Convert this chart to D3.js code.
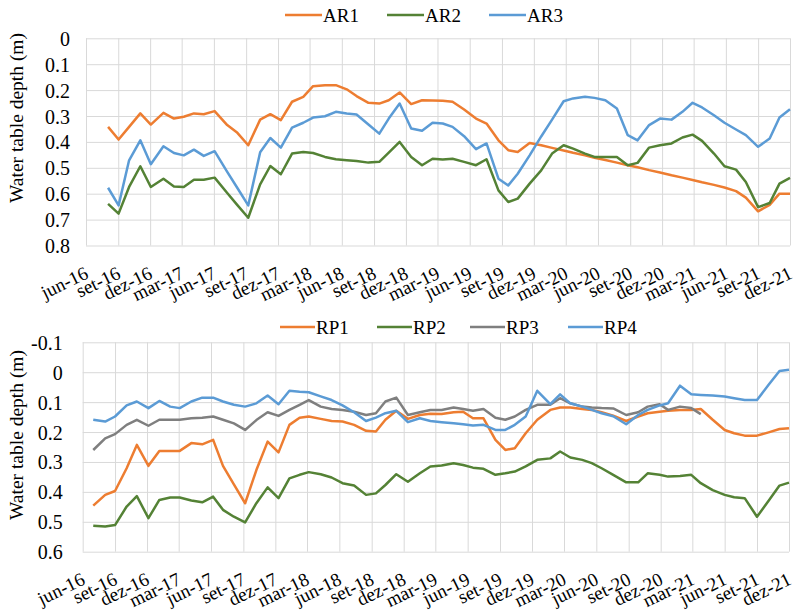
<!DOCTYPE html>
<html>
<head>
<meta charset="utf-8">
<script src="https://cdn.jsdelivr.net/npm/d3@7"></script>
<style>
    body { margin: 0; background: #fff; }
</style>
</head>
<body>
<div id="chart"></div>
<script>
// ------------------------------ data ------------------------------
const tickLabels = ["jun-16", "set-16", "dez-16", "mar-17", "jun-17", "set-17", "dez-17", "mar-18",
    "jun-18", "set-18", "dez-18", "mar-19", "jun-19", "set-19", "dez-19", "mar-20", "jun-20",
    "set-20", "dez-20", "mar-21", "jun-21", "set-21", "dez-21"];

const topYTicks = [0, 0.1, 0.2, 0.3, 0.4, 0.5, 0.6, 0.7, 0.8];
const bottomYTicks = [-0.1, 0, 0.1, 0.2, 0.3, 0.4, 0.5, 0.6];

const topDates = ["2016-08-03", "2016-09-02", "2016-10-02", "2016-11-03", "2016-12-03",
    "2017-01-08", "2017-02-07", "2017-03-07", "2017-04-05", "2017-05-03", "2017-06-03", "2017-07-09",
    "2017-08-07", "2017-09-07", "2017-10-11", "2017-11-09", "2017-12-09",
    "2018-01-10", "2018-02-11", "2018-03-11", "2018-04-14", "2018-05-15", "2018-06-15", "2018-07-13",
    "2018-08-16", "2018-09-16", "2018-10-13", "2018-11-13", "2018-12-16",
    "2019-01-16", "2019-02-15", "2019-03-16", "2019-04-13", "2019-05-16", "2019-06-19", "2019-07-19",
    "2019-08-22", "2019-09-19", "2019-10-16", "2019-11-19", "2019-12-22",
    "2020-01-22", "2020-02-24", "2020-03-22", "2020-04-25", "2020-05-22", "2020-06-22", "2020-07-25",
    "2020-08-25", "2020-09-22", "2020-10-25", "2020-11-25", "2020-12-28",
    "2021-01-28", "2021-02-26", "2021-03-25", "2021-04-28", "2021-05-28", "2021-06-30", "2021-07-28",
    "2021-09-01", "2021-10-04", "2021-11-01", "2021-12-01"];

const ar1 = [0.342, 0.391, 0.342, 0.290, 0.333, 0.288, 0.310, 0.303, 0.290, 0.293,
    0.281, 0.335, 0.365, 0.413, 0.314, 0.293, 0.316, 0.245, 0.226, 0.185,
    0.181, 0.181, 0.197, 0.223, 0.249, 0.252, 0.239, 0.209, 0.254, 0.239,
    0.240, 0.241, 0.245, 0.275, 0.310, 0.329, 0.394, 0.432, 0.439, 0.404,
    0.413, 0.423, 0.433, 0.442, 0.452, 0.461, 0.470, 0.480, 0.490, 0.498,
    0.509, 0.518, 0.529, 0.538, 0.547, 0.556, 0.566, 0.576, 0.590, 0.615,
    0.668, 0.643, 0.600, 0.600];

const ar2 = [0.639, 0.677, 0.574, 0.494, 0.574, 0.542, 0.572, 0.574, 0.546, 0.546,
    0.538, 0.597, 0.644, 0.693, 0.564, 0.493, 0.525, 0.445, 0.439, 0.443,
    0.458, 0.467, 0.471, 0.474, 0.480, 0.477, 0.441, 0.400, 0.458, 0.490,
    0.465, 0.468, 0.465, 0.477, 0.490, 0.467, 0.587, 0.632, 0.619, 0.561,
    0.510, 0.445, 0.413, 0.426, 0.445, 0.458, 0.458, 0.458, 0.490, 0.481,
    0.422, 0.413, 0.406, 0.383, 0.372, 0.396, 0.445, 0.494, 0.507, 0.555,
    0.652, 0.636, 0.561, 0.539];

const ar3 = [0.577, 0.645, 0.471, 0.394, 0.486, 0.417, 0.443, 0.452, 0.430, 0.454,
    0.436, 0.516, 0.578, 0.645, 0.440, 0.385, 0.422, 0.345, 0.326, 0.306,
    0.301, 0.284, 0.290, 0.294, 0.333, 0.368, 0.310, 0.252, 0.348, 0.357,
    0.326, 0.329, 0.342, 0.378, 0.428, 0.406, 0.542, 0.568, 0.523, 0.452,
    0.379, 0.314, 0.243, 0.232, 0.226, 0.230, 0.239, 0.271, 0.374, 0.394,
    0.335, 0.310, 0.314, 0.284, 0.249, 0.267, 0.297, 0.326, 0.352, 0.374,
    0.419, 0.387, 0.306, 0.274];

const bottomDates = ["2016-07-01", "2016-08-04", "2016-09-01", "2016-10-04", "2016-11-02", "2016-12-05",
    "2017-01-05", "2017-02-05", "2017-03-04", "2017-04-06", "2017-05-07", "2017-06-07", "2017-07-05",
    "2017-08-05", "2017-09-06", "2017-10-08", "2017-11-09", "2017-12-10",
    "2018-01-10", "2018-02-08", "2018-03-06", "2018-04-09", "2018-05-10", "2018-06-10", "2018-07-13",
    "2018-08-16", "2018-09-13", "2018-10-10", "2018-11-10", "2018-12-13",
    "2019-01-16", "2019-02-15", "2019-03-19", "2019-04-22", "2019-05-19", "2019-06-16", "2019-07-16",
    "2019-08-19", "2019-09-16", "2019-10-13", "2019-11-13", "2019-12-16",
    "2020-01-22", "2020-02-19", "2020-03-19", "2020-04-22", "2020-05-19", "2020-06-16", "2020-07-19",
    "2020-08-25", "2020-09-28", "2020-10-25", "2020-11-28", "2020-12-22",
    "2021-01-25", "2021-02-26", "2021-03-25", "2021-04-28", "2021-06-01", "2021-06-28", "2021-07-28",
    "2021-09-01", "2021-10-04", "2021-11-04", "2021-12-01"];

const rp1 = [0.446, 0.410, 0.397, 0.321, 0.243, 0.313, 0.263, 0.263, 0.263, 0.237,
    0.241, 0.226, 0.313, 0.375, 0.438, 0.327, 0.232, 0.268, 0.176, 0.152,
    0.148, 0.156, 0.163, 0.165, 0.176, 0.196, 0.198, 0.159, 0.129, 0.156,
    0.143, 0.139, 0.140, 0.134, 0.132, 0.154, 0.154, 0.226, 0.260, 0.254,
    0.204, 0.159, 0.126, 0.118, 0.118, 0.123, 0.126, 0.134, 0.145, 0.163,
    0.148, 0.137, 0.132, 0.129, 0.126, 0.126, 0.123, 0.159, 0.193, 0.204,
    0.212, 0.212, 0.201, 0.190, 0.187];

const rp2 = [0.513, 0.516, 0.511, 0.449, 0.414, 0.488, 0.427, 0.419, 0.419, 0.429,
    0.435, 0.416, 0.460, 0.483, 0.502, 0.438, 0.385, 0.421, 0.355, 0.343,
    0.334, 0.341, 0.352, 0.371, 0.379, 0.410, 0.405, 0.377, 0.341, 0.366,
    0.338, 0.315, 0.312, 0.304, 0.310, 0.319, 0.323, 0.343, 0.338, 0.332,
    0.315, 0.293, 0.288, 0.265, 0.285, 0.293, 0.304, 0.321, 0.343, 0.368,
    0.368, 0.338, 0.343, 0.349, 0.347, 0.343, 0.371, 0.394, 0.410, 0.418,
    0.421, 0.483, 0.430, 0.379, 0.369];

const rp3 = [0.260, 0.221, 0.207, 0.176, 0.159, 0.179, 0.159, 0.159, 0.159, 0.154,
    0.152, 0.148, 0.159, 0.171, 0.193, 0.160, 0.134, 0.146, 0.126, 0.109,
    0.093, 0.115, 0.123, 0.126, 0.132, 0.143, 0.137, 0.098, 0.085, 0.143,
    0.134, 0.126, 0.126, 0.118, 0.123, 0.129, 0.123, 0.152, 0.159, 0.148,
    0.126, 0.109, 0.109, 0.087, 0.104, 0.115, 0.118, 0.120, 0.121, 0.143,
    0.134, 0.115, 0.107, 0.126, 0.115, 0.120, 0.140, null, null, null,
    null, null, null, null, null];

const rp4 = [0.159, 0.165, 0.148, 0.111, 0.098, 0.120, 0.096, 0.115, 0.120, 0.098,
    0.085, 0.085, 0.098, 0.109, 0.115, 0.104, 0.078, 0.107, 0.062, 0.065,
    0.067, 0.081, 0.093, 0.111, 0.134, 0.163, 0.152, 0.137, 0.129, 0.167,
    0.154, 0.163, 0.167, 0.171, 0.174, 0.178, 0.176, 0.193, 0.193, 0.176,
    0.148, 0.062, 0.107, 0.074, 0.104, 0.115, 0.126, 0.137, 0.147, 0.174,
    0.143, 0.126, 0.111, 0.104, 0.045, 0.074, 0.076, 0.078, 0.081, 0.087,
    0.093, 0.093, 0.042, -0.004, -0.008];

const ORANGE = "#ed7d31";
const GREEN = "#548235";
const BLUE = "#5b9bd5";
const GREY = "#7f7f7f";
const GRID = "#d9d9d9";
const FONT = "'Liberation Serif', 'DejaVu Serif', serif";

// portuguese month names for parsing the tick labels
const ptLocale = d3.timeFormatLocale({
    dateTime: "%d/%m/%Y %H:%M", date: "%d/%m/%Y", time: "%H:%M:%S",
    periods: ["AM", "PM"],
    days: ["domingo", "segunda", "terça", "quarta", "quinta", "sexta", "sábado"],
    shortDays: ["dom", "seg", "ter", "qua", "qui", "sex", "sáb"],
    months: ["janeiro", "fevereiro", "março", "abril", "maio", "junho", "julho", "agosto",
        "setembro", "outubro", "novembro", "dezembro"],
    shortMonths: ["jan", "fev", "mar", "abr", "mai", "jun", "jul", "ago", "set", "out", "nov", "dez"]
});
const parseTick = ptLocale.parse("%b-%y");
const parseDate = d3.timeParse("%Y-%m-%d");
const fmtY = d => d === 0 ? "0" : d.toFixed(1);

const svg = d3.select("#chart")
    .append("svg")
    .attr("width", 797)
    .attr("height", 613)
    .style("font-family", FONT);

// ---------------------------------- panels ------------------------------------
drawPanel({
    left: 86, right: 790, top: 38.3, bottom: 245.5,
    yDomain: [0, 0.8], yTicks: topYTicks, labelGap: 16, titleY: 118,
    dates: topDates,
    series: [
        {name: "AR1", values: ar1, color: ORANGE, lx: 285},
        {name: "AR2", values: ar2, color: GREEN, lx: 387},
        {name: "AR3", values: ar3, color: BLUE, lx: 489}
    ],
    legendY: 15, legendLine: 37
});

drawPanel({
    left: 82.7, right: 789, top: 342.3, bottom: 551.7,
    yDomain: [-0.1, 0.6], yTicks: bottomYTicks, labelGap: 20, titleY: 435,
    dates: bottomDates,
    series: [
        {name: "RP1", values: rp1, color: ORANGE, lx: 280},
        {name: "RP2", values: rp2, color: GREEN, lx: 377},
        {name: "RP3", values: rp3, color: GREY, lx: 470},
        {name: "RP4", values: rp4, color: BLUE, lx: 568}
    ],
    legendY: 327, legendLine: 35
});

function drawPanel(cfg) {
    const w = cfg.right - cfg.left;
    const h = cfg.bottom - cfg.top;

    const x = d3.scaleTime()
        .domain([parseTick(tickLabels[0]), parseTick(tickLabels[tickLabels.length - 1])])
        .range([cfg.left, cfg.right]);
    const y = d3.scaleLinear()
        .domain(cfg.yDomain)
        .range([cfg.top, cfg.bottom]);

    // horizontal grid + y labels
    const yAxis = svg.append("g")
        .attr("transform", `translate(${cfg.left},0)`)
        .call(d3.axisLeft(y).tickValues(cfg.yTicks).tickFormat(fmtY)
            .tickSizeInner(-w).tickSizeOuter(0))
        .attr("font-family", null)
        .attr("font-size", null);
    yAxis.select(".domain").remove();
    yAxis.selectAll("line").attr("stroke", GRID).attr("stroke-width", 1);
    yAxis.selectAll("text")
        .attr("x", -cfg.labelGap)
        .attr("dy", "0.35em")
        .style("font-family", FONT)
        .style("font-size", "20px");

    // vertical grid + rotated month labels
    const xAxis = svg.append("g")
        .attr("transform", `translate(0,${cfg.bottom})`)
        .call(d3.axisBottom(x).tickValues(tickLabels.map(parseTick))
            .tickFormat((d, i) => tickLabels[i])
            .tickSizeInner(-h).tickSizeOuter(0))
        .attr("font-family", null)
        .attr("font-size", null);
    xAxis.select(".domain").remove();
    xAxis.selectAll("line").attr("stroke", GRID).attr("stroke-width", 1);
    xAxis.selectAll("text")
        .attr("y", 0)
        .attr("dy", 0)
        .attr("transform", "translate(3,32) rotate(-26)")
        .style("text-anchor", "end")
        .style("font-family", FONT)
        .style("font-size", "19px");

    // y axis title
    svg.append("text")
        .attr("transform", `translate(23,${cfg.titleY}) rotate(-90)`)
        .attr("text-anchor", "middle")
        .style("font-family", FONT)
        .style("font-size", "19.5px")
        .text("Water table depth (m)");

    // lines
    const dates = cfg.dates.map(parseDate);
    const line = d3.line()
        .defined(d => d[1] !== null)
        .x(d => x(d[0]))
        .y(d => y(d[1]));

    svg.append("g")
        .selectAll("path")
        .data(cfg.series)
        .enter()
        .append("path")
        .attr("d", s => line(dates.map((t, i) => [t, s.values[i]])))
        .attr("fill", "none")
        .attr("stroke", s => s.color)
        .attr("stroke-width", 2.5)
        .attr("stroke-linejoin", "round");

    // legend
    const legend = svg.append("g")
        .selectAll("g")
        .data(cfg.series)
        .enter()
        .append("g")
        .attr("transform", s => `translate(${s.lx},${cfg.legendY})`);
    legend.append("line")
        .attr("x1", 0)
        .attr("x2", cfg.legendLine)
        .attr("stroke", s => s.color)
        .attr("stroke-width", 2.5);
    legend.append("text")
        .attr("x", cfg.legendLine + 1)
        .attr("y", 7)
        .style("font-family", FONT)
        .style("font-size", "19px")
        .text(s => s.name);
}
</script>
</body>
</html>
